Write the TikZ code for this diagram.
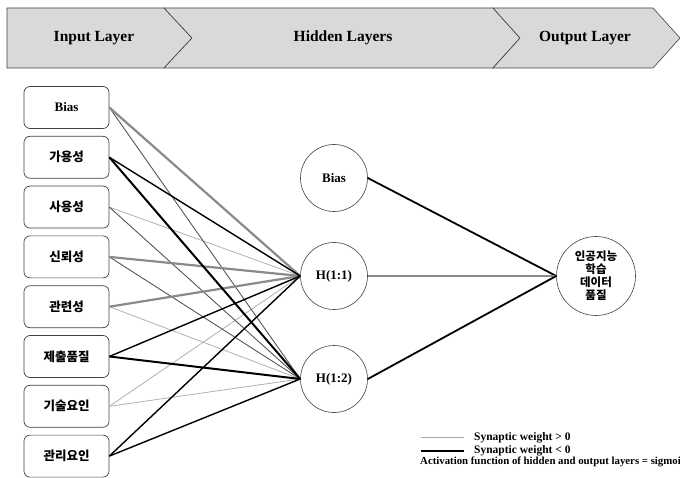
\documentclass[tikz,border=0pt]{standalone}
\usepackage{fontspec}
\setmainfont{Liberation Serif}
\newfontfamily\kr{Noto Sans CJK KR}
\definecolor{bannerfill}{HTML}{D9D9D9}
\definecolor{bannerdraw}{HTML}{404040}
\definecolor{boxdraw}{HTML}{404040}
\definecolor{posthick}{HTML}{8A8A8A}
\definecolor{poslight}{HTML}{B0B0B0}
\definecolor{negthin}{HTML}{555555}
\definecolor{leggray}{HTML}{A6A6A6}
\begin{document}
\begin{tikzpicture}[x=1pt,y=-1pt,
  banner/.style={fill=bannerfill,draw=bannerdraw,line width=0.6pt},
  btext/.style={font=\fontsize{15.5}{18}\selectfont\bfseries},
  inbox/.style={draw=boxdraw,rounded corners=6pt,minimum width=85pt,minimum height=42pt,inner sep=0pt,line width=0.7pt},
  krtext/.style={font=\kr\bfseries\fontsize{12.5}{14}\selectfont},
  entext/.style={font=\bfseries\fontsize{13}{15}\selectfont},
  hid/.style={circle,draw=boxdraw,minimum size=67pt,inner sep=0pt,line width=0.6pt},
  outc/.style={circle,draw=boxdraw,minimum size=79pt,inner sep=0pt,line width=0.6pt,align=center,font=\kr\bfseries\fontsize{11.5}{13}\selectfont},
  wposA/.style={draw=posthick,line width=2.2pt},
  wposB/.style={draw=poslight,line width=0.8pt},
  wnegA/.style={draw=negthin,line width=0.9pt},
  wnegB/.style={draw=black,line width=1.4pt},
  wnegC/.style={draw=black,line width=2pt},
  legtext/.style={font=\bfseries\fontsize{11.5}{13}\selectfont,anchor=west,inner sep=0pt}
]
\useasboundingbox (0,0) rectangle (680,478);
% banner
\path[banner] (7,8) -- (164,8) -- (192,38) -- (164,68) -- (7,68) -- cycle;
\path[banner] (164,8) -- (493,8) -- (520,38) -- (493,68) -- (164,68) -- (192,38) -- cycle;
\path[banner] (493,8) -- (653,8) -- (680,38) -- (653,68) -- (493,68) -- (520,38) -- cycle;
\node[btext] (tin) at (94,38) {Input Layer};
\node[btext] (thid) at (343,38) {Hidden Layers};
\node[btext] (tout) at (585,38) {Output Layer};
% input boxes
\node[inbox,entext] (i1) at (66.5,107.5) {Bias};
\node[inbox,krtext] (i2) at (66.5,157.3) {가용성};
\node[inbox,krtext] (i3) at (66.5,207.1) {사용성};
\node[inbox,krtext] (i4) at (66.5,256.9) {신뢰성};
\node[inbox,krtext] (i5) at (66.5,306.7) {관련성};
\node[inbox,krtext] (i6) at (66.5,356.5) {제출품질};
\node[inbox,krtext] (i7) at (66.5,406.3) {기술요인};
\node[inbox,krtext] (i8) at (66.5,456.1) {관리요인};
% hidden
\node[hid,entext] (hb) at (334,178) {Bias};
\node[hid,entext] (h1) at (334,276) {H(1:1)};
\node[hid,entext] (h2) at (334,379) {H(1:2)};
% output
\node[outc] (o) at (596,276) {인공지능\\학습\\데이터\\품질};
% input -> hidden
\draw[wposB] (i3.east) -- (h1.west);
\draw[wposB] (i7.east) -- (h1.west);
\draw[wposB] (i5.east) -- (h2.west);
\draw[wposB] (i7.east) -- (h2.west);
\draw[wnegA] (i1.east) -- (h2.west);
\draw[wnegA] (i3.east) -- (h2.west);
\draw[wnegA] (i4.east) -- (h2.west);
\draw[wposA] (i1.east) -- (h1.west);
\draw[wposA] (i4.east) -- (h1.west);
\draw[wposA] (i5.east) -- (h1.west);
\draw[wnegB] (i2.east) -- (h1.west);
\draw[wnegB] (i6.east) -- (h1.west);
\draw[wnegB] (i8.east) -- (h1.west);
\draw[wnegB] (i8.east) -- (h2.west);
\draw[wnegC] (i2.east) -- (h2.west);
\draw[wnegC] (i6.east) -- (h2.west);
% hidden -> output
\draw[black,line width=1.8pt] (hb.east) -- (o.west);
\draw[posthick,line width=1.8pt] (h1.east) -- (o.west);
\draw[black,line width=1.8pt] (h2.east) -- (o.west);
% legend
\coordinate (la1) at (421,437.5);
\coordinate (la2) at (464,437.5);
\coordinate (lb1) at (421,451);
\coordinate (lb2) at (464,451);
\draw[leggray,line width=1.8pt] (la1) -- (la2);
\draw[black,line width=1.8pt] (lb1) -- (lb2);
\node[legtext] (lta) at (474,437.5) {Synaptic weight > 0};
\node[legtext] (ltb) at (474,451) {Synaptic weight < 0};
\node[legtext,font=\bfseries\fontsize{10.8}{12}\selectfont] (ltc) at (420,462) {Activation function of hidden and output layers = sigmoid};
\end{tikzpicture}
\end{document}
